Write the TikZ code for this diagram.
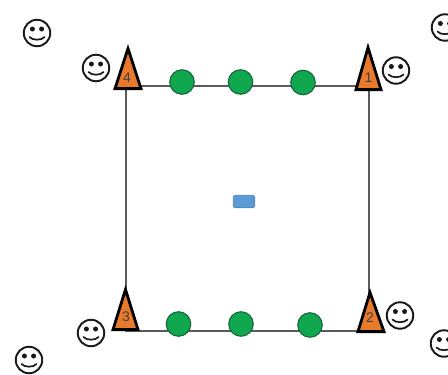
\documentclass[tikz,border=0pt]{standalone}
\usepackage{fontspec}
\setmainfont{Liberation Sans}
\definecolor{conegold}{HTML}{E87A2C}
\definecolor{discgreen}{HTML}{0FA84F}
\definecolor{discedge}{HTML}{17663A}
\definecolor{ballblue}{HTML}{5B9BD5}
\definecolor{lineg}{HTML}{5A5A5A}
\tikzset{
  smiley/.style={circle,draw=black!90,line width=1.9pt,minimum size=26.5pt,inner sep=0pt,fill=white,
    path picture={
      \fill[black!90] (path picture bounding box.center)+(-4.6pt,4pt) circle (2.5pt);
      \fill[black!90] (path picture bounding box.center)+(4.6pt,4pt) circle (2.5pt);
      \draw[black!90,line width=1.7pt,line cap=round] (path picture bounding box.center)+(-7.5pt,-4pt)
        .. controls +(3pt,-3.6pt) and +(-3pt,-3.6pt) .. +(7.5pt,-4pt);
    }},
  disc/.style={circle,draw=discedge,line width=1.1pt,fill=discgreen,minimum size=24.5pt,inner sep=0pt},
  cone/.style={draw=black,line width=2.8pt,fill=conegold,line join=miter},
  conelabel/.style={font=\fontsize{14}{14}\selectfont,text=black!75,inner sep=0pt},
  sideline/.style={draw=lineg,line width=1.3pt},
  marker/.style={draw=ballblue!85!black,line width=0.6pt,fill=ballblue,rounded corners=1.5pt,minimum width=21.5pt,minimum height=12.5pt,inner sep=0pt}
}
\begin{document}
\begin{tikzpicture}[x=1pt,y=-1pt]
\useasboundingbox (0,0) rectangle (448,375);
\coordinate (c4) at (126,86);
\coordinate (c1) at (369,86);
\coordinate (c2) at (369,331);
\coordinate (c3) at (126,331);
\draw[sideline] (c4) -- (c1) -- (c2) -- (c3) -- cycle;
\draw[cone] (128,48.5) -- (141,88.6) -- (115,88.6) -- cycle;
\draw[cone] (368,47.5) -- (381,89.6) -- (356,89.6) -- cycle;
\draw[cone] (370,292.5) -- (384,331.6) -- (358,331.6) -- cycle;
\draw[cone] (125.5,289.5) -- (138,329.6) -- (113,329.6) -- cycle;
\node[conelabel] (t4) at (127,78) {4};
\node[conelabel] (t1) at (368.5,78) {1};
\node[conelabel] (t2) at (370,318) {2};
\node[conelabel] (t3) at (126,317) {3};
\node[disc] (g1) at (182,82) {};
\node[disc] (g2) at (240.5,82) {};
\node[disc] (g3) at (303,82.5) {};
\node[disc] (g4) at (178.5,324) {};
\node[disc] (g5) at (241,324) {};
\node[disc] (g6) at (310,325) {};
\node[marker] (m) at (244,201.5) {};
\node[smiley] (s1) at (37,33) {};
\node[smiley] (s2) at (96,68) {};
\node[smiley] (s3) at (396,70.5) {};
\node[smiley] (s4) at (445,27.5) {};
\node[smiley] (s5) at (400,315.5) {};
\node[smiley] (s6) at (444,343.5) {};
\node[smiley] (s7) at (91,333) {};
\node[smiley] (s8) at (29,360) {};
\end{tikzpicture}
\end{document}
